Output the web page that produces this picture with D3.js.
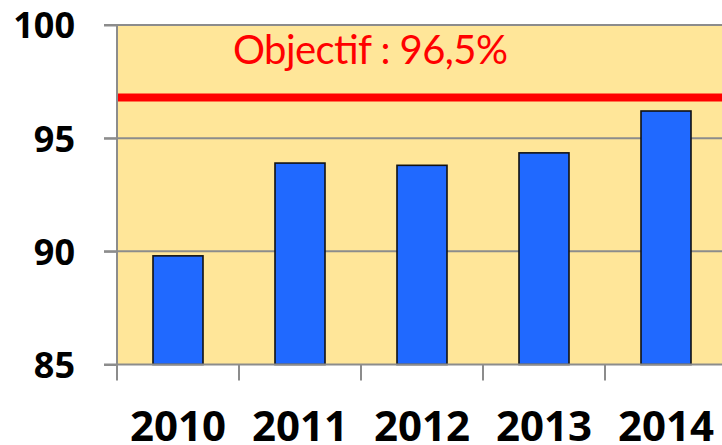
<!DOCTYPE html>
<html><head><meta charset="utf-8">
<script src="https://cdn.jsdelivr.net/npm/d3@7"></script>
<style>body{margin:0;background:#fff}svg{display:block}</style>
</head><body>
<script>
const categories = ["2010","2011","2012","2013","2014"];
const values = [89.8, 93.9, 93.8, 94.35, 96.2];
const yTicks = [85, 90, 95, 100];
const targetValue = 96.8;
const targetLabel = "Objectif : 96,5%";

(function(){
const W = 722, H = 445;
const svg = d3.select("body").append("svg").attr("width", W).attr("height", H);
const mLeft = 117, mTop = 25, mBottom = 364.5, band = 122;
const x = d3.scaleBand().domain(categories).range([mLeft, mLeft + band*categories.length]).paddingInner(0).paddingOuter(0);
const y = d3.scaleLinear().domain([85, 100]).range([mBottom, mTop]);

svg.append("rect").attr("x", mLeft).attr("y", mTop).attr("width", W - mLeft).attr("height", mBottom - mTop).attr("fill", "#FFE699");

// gridlines
svg.append("g").selectAll("line").data(yTicks.filter(d => d > 85)).join("line")
  .attr("x1", mLeft - 13).attr("x2", W).attr("y1", d => y(d)).attr("y2", d => y(d))
  .attr("stroke", "#8c8c8c").attr("stroke-width", 2);

// bars
const bw = 50;
svg.append("g").selectAll("rect").data(categories).join("rect")
  .attr("x", (d) => x(d) + (band - bw)/2)
  .attr("y", (d,i) => y(values[i]))
  .attr("width", bw)
  .attr("height", (d,i) => y(85) - y(values[i]))
  .attr("fill", "#2069FF").attr("stroke", "#111").attr("stroke-width", 1.6);

// target line
svg.append("line").attr("x1", mLeft + 1).attr("x2", W).attr("y1", y(targetValue)).attr("y2", y(targetValue))
  .attr("stroke", "#FF0000").attr("stroke-width", 8);
const t = svg.append("text").attr("x", 233).attr("y", 64).attr("fill", "#FF0000")
  .attr("font-family", "Lato, 'Open Sans', sans-serif").attr("font-size", 40).text(targetLabel);
const tw = t.node().getComputedTextLength();
t.attr("textLength", 275).attr("lengthAdjust", "spacing");

// y axis
const yAxis = d3.axisLeft(y).tickValues(yTicks).tickSize(13).tickPadding(29).tickFormat(d3.format("d"));
const gy = svg.append("g").attr("transform", `translate(${mLeft},0)`).call(yAxis);
gy.select(".domain").attr("stroke", "#8c8c8c").attr("stroke-width", 2).attr("d", `M0,${mTop}V${mBottom+16}`);
gy.selectAll(".tick line").attr("stroke", "#8c8c8c").attr("stroke-width", 2);
gy.selectAll(".tick text").attr("font-family", "'Open Sans', Lato, sans-serif").attr("font-weight", "bold")
  .attr("font-size", 36).attr("fill", "#000").attr("dy", "0.36em");

// x axis
const xAxis = d3.axisBottom(x).tickSize(0).tickPadding(76.5);
const gx = svg.append("g").attr("transform", `translate(0,${mBottom})`).call(xAxis);
gx.select(".domain").attr("stroke", "#8c8c8c").attr("stroke-width", 2).attr("d", `M${mLeft-13},0H${W}`);
gx.selectAll(".tick text").attr("font-family", "'Open Sans', Lato, sans-serif").attr("font-weight", "bold")
  .attr("font-size", 42).attr("fill", "#000").attr("dy", 0);
gx.selectAll(".sep").data(categories.slice(1)).join("line").attr("class","sep")
  .attr("x1", d => x(d)).attr("x2", d => x(d)).attr("y1", 0).attr("y2", 16)
  .attr("stroke", "#8c8c8c").attr("stroke-width", 2);
})();
</script>
</body></html>
